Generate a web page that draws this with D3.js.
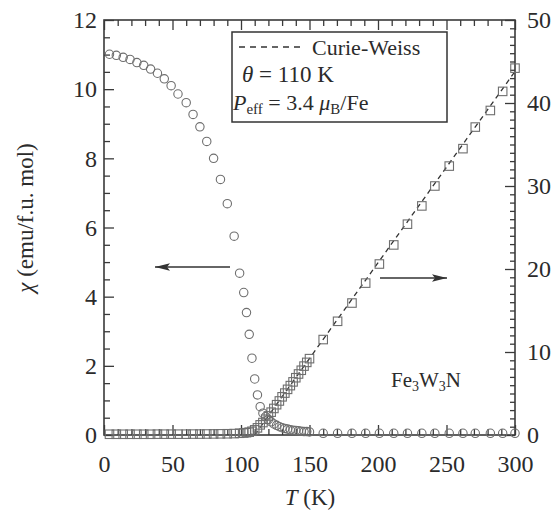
<!DOCTYPE html>
<html><head><meta charset="utf-8">
<script src="https://cdn.jsdelivr.net/npm/d3@7"></script>
<style>
body{margin:0;background:#fff;}
svg text{font-family:"Liberation Serif","DejaVu Serif","Noto Serif",Times,serif;fill:#2b2b2b;}
</style></head>
<body><svg id="c" width="555" height="520"></svg>
<script>
// ---- data ----
const chiT = [4,9,14,19,24,29,34,39,44,49,54,60,65,70,75,80,85,90,95,99,
  102,104,106,108,110,112,114,116,118,120,122,124,126,128,130,132,134,136,138,140,142,144,146,148,150,
  160,170.5,181,191,201,211.5,221.5,232,241.5,252,262,271,282,291,300];
const chiV = [11.01,10.98,10.92,10.86,10.77,10.69,10.58,10.46,10.30,10.10,9.86,9.61,9.27,8.91,8.49,8.00,7.39,6.69,5.75,4.68,
  4.12,3.54,2.91,2.22,1.62,1.16,0.82,0.63,0.53,0.45,0.38,0.32,0.28,0.24,0.21,0.19,0.17,0.15,0.14,0.13,0.12,0.11,0.10,0.10,0.09,
  0.05,0.05,0.05,0.05,0.05,0.05,0.05,0.05,0.05,0.05,0.05,0.05,0.05,0.05,0.05];
const invT = [4,9,14,19,24,29,34,39,44,49,54,60,65,70,75,80,85,90,95,99,
  102,104,106,108,110,112,114,116,118,120,122,124,126,128,130,132,134,136,138,140,142,144,146,148,150,
  160,170.5,181,191,201,211.5,221.5,232,241.5,252,262,271,282,291,300];
const invV = [0.09,0.09,0.09,0.09,0.09,0.09,0.09,0.1,0.1,0.1,0.1,0.1,0.11,0.11,0.12,0.13,0.14,0.15,0.17,0.21,
  0.24,0.28,0.34,0.45,0.62,0.86,1.22,1.5,1.9,2.3,2.75,3.2,3.65,4.1,4.6,5.05,5.5,5.95,6.4,6.9,7.35,7.8,8.3,8.75,9.2,
  11.5,13.7,15.9,18.3,20.6,22.9,25.4,27.6,30.0,32.4,34.5,37.1,39.1,41.4,44.2];
const cwT = [110, 300];
const cwV = [0, 43.8];
const xTicks = [0,50,100,150,200,250,300];
const yLeftTicks = [0,2,4,6,8,10,12];
const yRightTicks = [0,10,20,30,40,50];

// ---- layout ----
const svg = d3.select("#c");
const x = d3.scaleLinear().domain([0,300]).range([104,515]);
const yL = d3.scaleLinear().domain([0,12]).range([435,20]);
const yR = d3.scaleLinear().domain([0,50]).range([435,20]);
const ink = "#3a3a3a";
const serif = '"Liberation Serif","DejaVu Serif","Noto Serif",Times,serif';

function styleAxis(g, fs){
  g.attr("font-family", serif);
  g.select(".domain").remove();
  g.selectAll(".tick line").attr("stroke", ink).attr("stroke-width",1.3);
  g.selectAll(".tick text").attr("font-size", fs).attr("fill","#2b2b2b");
}
const fs = 24;
const minorX = d3.range(0,301,10).filter(v=>v%50!==0);
const minorYL = d3.range(0,12.01,0.5).filter(v=>v%2!==0);
const minorYR = d3.range(0,50.01,1).filter(v=>v%10!==0);

svg.append("g").attr("transform","translate(0,435)")
  .call(d3.axisBottom(x).tickValues(minorX).tickSize(-6).tickSizeOuter(0).tickFormat(""))
  .call(g=>styleAxis(g,fs));
svg.append("g").attr("transform","translate(0,435)")
  .call(d3.axisBottom(x).tickValues(xTicks).tickSize(-10).tickSizeOuter(0).tickPadding(20))
  .call(g=>styleAxis(g,fs));
svg.append("g").attr("transform","translate(0,20)")
  .call(d3.axisTop(x).tickValues(minorX).tickSize(-6).tickSizeOuter(0).tickFormat(""))
  .call(g=>styleAxis(g,fs));
svg.append("g").attr("transform","translate(0,20)")
  .call(d3.axisTop(x).tickValues(xTicks).tickSize(-10).tickSizeOuter(0).tickFormat(""))
  .call(g=>styleAxis(g,fs));
svg.append("g").attr("transform","translate(104,0)")
  .call(d3.axisLeft(yL).tickValues(minorYL).tickSize(-6).tickSizeOuter(0).tickFormat(""))
  .call(g=>styleAxis(g,fs));
svg.append("g").attr("transform","translate(104,0)")
  .call(d3.axisLeft(yL).tickValues(yLeftTicks).tickSize(-10).tickSizeOuter(0).tickPadding(7))
  .call(g=>styleAxis(g,fs));
svg.append("g").attr("transform","translate(515,0)")
  .call(d3.axisRight(yR).tickValues(minorYR).tickSize(-5).tickSizeOuter(0).tickFormat(""))
  .call(g=>styleAxis(g,fs));
svg.append("g").attr("transform","translate(515,0)")
  .call(d3.axisRight(yR).tickValues(yRightTicks).tickSize(-10).tickSizeOuter(0).tickPadding(12))
  .call(g=>styleAxis(g,fs));

// frame
svg.append("rect").attr("x",104).attr("y",20).attr("width",411).attr("height",415)
  .attr("fill","none").attr("stroke",ink).attr("stroke-width",1.6);

// Curie-Weiss line
svg.append("path")
  .datum(cwT.map((t,i)=>[t,cwV[i]]))
  .attr("d", d3.line().x(d=>x(d[0])).y(d=>yR(d[1])))
  .attr("fill","none").attr("stroke","#333").attr("stroke-width",1.3).attr("stroke-dasharray","5,4");

// squares (1/chi)
const sq = 8.5;
svg.append("g").selectAll("rect").data(invT.map((t,i)=>[t,invV[i]])).join("rect")
  .attr("x",d=>x(d[0])-sq/2).attr("y",d=>yR(d[1])-sq/2).attr("width",sq).attr("height",sq)
  .attr("fill","none").attr("stroke","#6e6e6e").attr("stroke-width",1.1);

// circles (chi)
svg.append("g").selectAll("circle").data(chiT.map((t,i)=>[t,chiV[i]])).join("circle")
  .attr("cx",d=>x(d[0])).attr("cy",d=>yL(d[1])).attr("r",4.2)
  .attr("fill","none").attr("stroke","#6e6e6e").attr("stroke-width",1.1);

// arrows
function arrow(x1,x2,yy){
  svg.append("line").attr("x1",x1).attr("x2",x2).attr("y1",yy).attr("y2",yy)
    .attr("stroke","#333").attr("stroke-width",1.4);
  const dir = Math.sign(x2-x1);
  svg.append("path").attr("d",`M${x2},${yy} L${x2-dir*15},${yy-3.8} L${x2-dir*12},${yy} L${x2-dir*15},${yy+3.8} Z`)
    .attr("fill","#333");
}
arrow(230,155,267);
arrow(380,447,278);

// legend box
svg.append("rect").attr("x",232).attr("y",32).attr("width",215).attr("height",90)
  .attr("fill","#fff").attr("stroke","#333").attr("stroke-width",1.5);
svg.append("line").attr("x1",239).attr("x2",302).attr("y1",47).attr("y2",47)
  .attr("stroke","#333").attr("stroke-width",1.3).attr("stroke-dasharray","6,5");
const L = svg.append("g").attr("font-family", serif);
L.append("text").attr("x",312).attr("y",55).attr("font-size",22).text("Curie-Weiss");
const t2 = L.append("text").attr("x",242).attr("y",82).attr("font-size",23);
t2.append("tspan").attr("font-style","italic").text("θ");
t2.append("tspan").text(" = 110 K");
const t3 = L.append("text").attr("x",233).attr("y",110).attr("font-size",22);
t3.append("tspan").attr("font-style","italic").text("P");
t3.append("tspan").attr("font-size",15).attr("dy",4).text("eff");
t3.append("tspan").attr("dy",-4).text(" = 3.4 ");
t3.append("tspan").attr("font-style","italic").text("μ");
t3.append("tspan").attr("font-size",15).attr("dy",4).text("B");
t3.append("tspan").attr("dy",-4).text("/Fe");

// compound label
const t4 = L.append("text").attr("x",391).attr("y",387).attr("font-size",21);
t4.append("tspan").text("Fe");
t4.append("tspan").attr("font-size",14).attr("dy",4).text("3");
t4.append("tspan").attr("dy",-4).text("W");
t4.append("tspan").attr("font-size",14).attr("dy",4).text("3");
t4.append("tspan").attr("dy",-4).text("N");

// axis titles
const xt = L.append("text").attr("x",310).attr("y",505).attr("text-anchor","middle").attr("font-size",23);
xt.append("tspan").attr("font-style","italic").text("T");
xt.append("tspan").text(" (K)");
const yt = L.append("text").attr("transform","translate(33,218) rotate(-90)").attr("text-anchor","middle").attr("font-size",23);
yt.append("tspan").attr("font-style","italic").text("χ");
yt.append("tspan").text(" (emu/f.u. mol)");
</script></body></html>
